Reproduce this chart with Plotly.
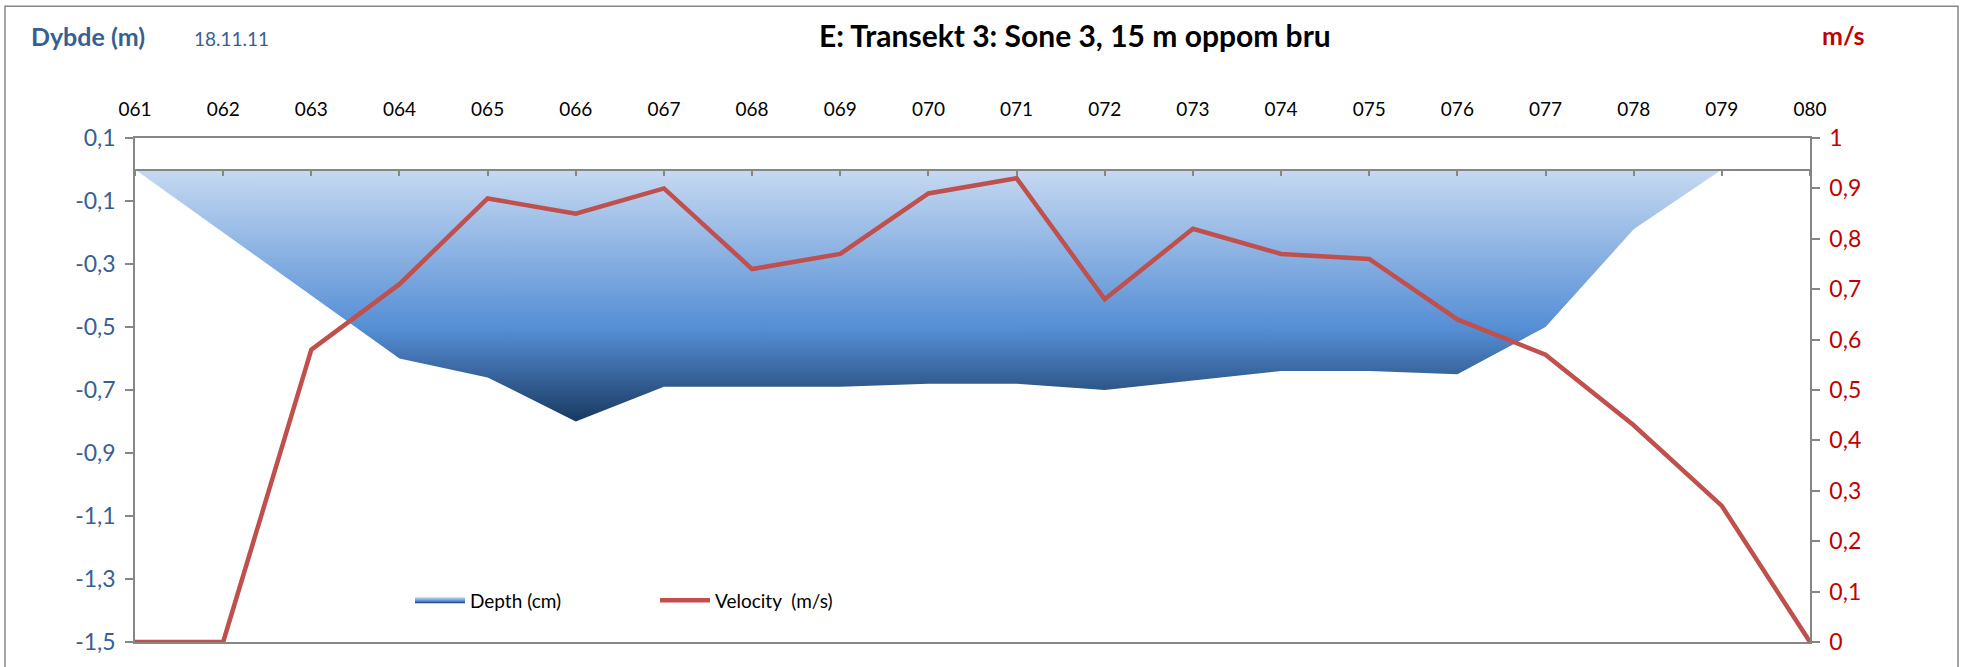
import plotly.graph_objects as go

# ---- data ----
stations = ["061", "062", "063", "064", "065", "066", "067", "068", "069", "070",
            "071", "072", "073", "074", "075", "076", "077", "078", "079", "080"]
depth_m = [0, -0.2, -0.4, -0.6, -0.66, -0.8, -0.69, -0.69, -0.69, -0.68,
           -0.68, -0.70, -0.67, -0.64, -0.64, -0.65, -0.50, -0.19, 0, 0]
velocity_ms = [0, 0, 0.58, 0.71, 0.88, 0.85, 0.90, 0.74, 0.77, 0.89,
               0.92, 0.68, 0.82, 0.77, 0.76, 0.64, 0.57, 0.43, 0.27, 0]

left_tickvals = [0.1, -0.1, -0.3, -0.5, -0.7, -0.9, -1.1, -1.3, -1.5]
left_ticktext = ["0,1", "-0,1", "-0,3", "-0,5", "-0,7", "-0,9", "-1,1", "-1,3", "-1,5"]
right_tickvals = [0, 0.1, 0.2, 0.3, 0.4, 0.5, 0.6, 0.7, 0.8, 0.9, 1]
right_ticktext = ["0", "0,1", "0,2", "0,3", "0,4", "0,5", "0,6", "0,7", "0,8", "0,9", "1"]

title_text = "E: Transekt 3: Sone 3, 15 m oppom bru"
left_title = "Dybde (m)"
date_text = "18.11.11"
right_title = "m/s"
depth_name = "Depth (cm)"
velocity_name = "Velocity\u00a0\u00a0(m/s)"

FONT = "Lato"
AXIS_GRAY = "#868686"
BLUE_TXT = "#376092"
RED_TXT = "#c00000"

W, H = 1968, 667
L, R, T, B = 135, 158, 138, 20
PW, PH = W - L - R, H - T - B


def px(xp):
    return (xp - L) / PW


def py(yp):
    return (H - B - yp) / PH


fig = go.Figure()

fig.add_trace(go.Scatter(
    x=stations, y=depth_m, name=depth_name,
    mode="none", fill="tozeroy",
    fillgradient=dict(type="vertical",
                      colorscale=[[0, "#17375e"], [0.375, "#558ed5"], [1, "#c6d9f1"]],
                      start=min(depth_m), stop=0),
    fillcolor="#558ed5",
    xaxis="x", yaxis="y",
))

fig.add_trace(go.Scatter(
    x=stations, y=velocity_ms, name=velocity_name,
    mode="lines", line=dict(color="#c0504d", width=4.5),
    xaxis="x2", yaxis="y2",
))

n = len(stations)
fig.update_layout(
    width=W, height=H,
    margin=dict(l=L, r=R, t=T, b=B),
    paper_bgcolor="white", plot_bgcolor="white",
    font=dict(family=FONT, color="black"),
    showlegend=True,
    legend=dict(orientation="h", x=px(410), y=py(605), xanchor="left", yanchor="middle",
                font=dict(family=FONT, size=19, color="black"),
                entrywidth=180, entrywidthmode="pixels", bgcolor="rgba(0,0,0,0)",
                itemwidth=50),
    xaxis=dict(type="category", range=[0, n - 1], side="top",
               showline=True, linecolor=AXIS_GRAY, linewidth=1.5, mirror=True,
               ticks="", showgrid=False, zeroline=False,
               tickfont=dict(family=FONT, size=19, color="black"),
               ticklabelstandoff=13),
    xaxis2=dict(type="category", range=[0, n - 1], overlaying="x",
                anchor="free", position=(0 - (-1.5)) / 1.6, side="bottom",
                showline=True, linecolor=AXIS_GRAY, linewidth=1.5,
                ticks="outside", ticklen=6, tickcolor=AXIS_GRAY, tickwidth=1.5,
                showticklabels=False, showgrid=False, zeroline=False),
    yaxis=dict(range=[-1.5, 0.1], tickvals=left_tickvals, ticktext=left_ticktext,
               showline=True, linecolor=AXIS_GRAY, linewidth=1.5,
               ticks="outside", ticklen=8, tickcolor=AXIS_GRAY, tickwidth=1.5,
               tickfont=dict(family=FONT, size=23, color=BLUE_TXT),
               showgrid=False, zeroline=False, ticklabelstandoff=5),
    yaxis2=dict(range=[0, 1], tickvals=right_tickvals, ticktext=right_ticktext,
                overlaying="y", side="right", anchor="x",
                showline=True, linecolor=AXIS_GRAY, linewidth=1.5,
                ticks="outside", ticklen=8, tickcolor=AXIS_GRAY, tickwidth=1.5,
                tickfont=dict(family=FONT, size=23, color=RED_TXT),
                showgrid=False, zeroline=False, ticklabelstandoff=5),
)

# outer chart border (bottom edge lies below the visible page, as in the reference)
fig.add_shape(type="rect", xref="paper", yref="paper",
              x0=px(5), x1=px(1958), y0=py(700), y1=py(5),
              line=dict(color=AXIS_GRAY, width=1.5), fillcolor="rgba(0,0,0,0)", layer="below")

fig.add_annotation(text=f"<b>{title_text}</b>", xref="paper", yref="paper",
                   x=px(1075), y=py(34), showarrow=False,
                   xanchor="center", yanchor="middle",
                   font=dict(family=FONT, size=30, color="black"))
fig.add_annotation(text=f"<b>{left_title}</b>", xref="paper", yref="paper",
                   x=px(29), y=py(35), showarrow=False,
                   xanchor="left", yanchor="middle",
                   font=dict(family=FONT, size=25, color=BLUE_TXT))
fig.add_annotation(text=date_text, xref="paper", yref="paper",
                   x=px(192), y=py(38), showarrow=False,
                   xanchor="left", yanchor="middle",
                   font=dict(family=FONT, size=19, color=BLUE_TXT))
fig.add_annotation(text=f"<b>{right_title}</b>", xref="paper", yref="paper",
                   x=px(1844), y=py(34), showarrow=False,
                   xanchor="center", yanchor="middle",
                   font=dict(family=FONT, size=25, color=RED_TXT))

fig.write_html("out.html",
               config={"displayModeBar": False},
               post_script="document.body.style.margin='0';document.body.style.overflow='hidden';")
